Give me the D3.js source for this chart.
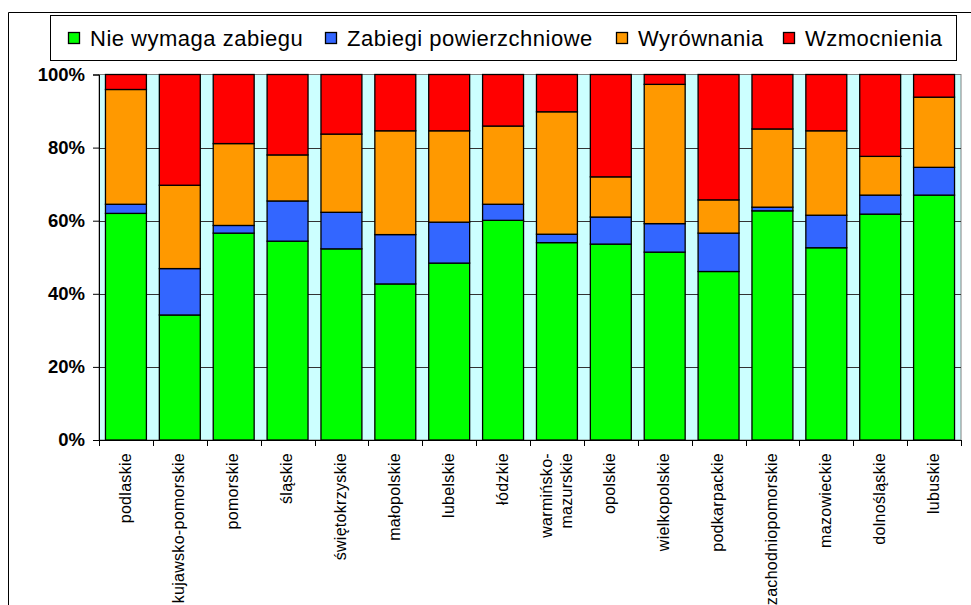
<!DOCTYPE html>
<html><head><meta charset="utf-8">
<script src="https://cdn.jsdelivr.net/npm/d3@7"></script>
<style>body{margin:0;background:#fff}svg{display:block}text{font-family:"Liberation Sans",Arial,sans-serif}</style>
</head><body><svg id="c" width="971" height="605"></svg>
<script>
const categories = ["podlaskie","kujawsko-pomorskie","pomorskie","śląskie","świętokrzyskie","małopolskie","lubelskie","łódzkie","warmińsko-\nmazurskie","opolskie","wielkopolskie","podkarpackie","zachodniopomorskie","mazowieckie","dolnośląskie","lubuskie"];
const seriesNames = ["Nie wymaga zabiegu","Zabiegi powierzchniowe","Wyrównania","Wzmocnienia"];
const nieWymaga   = [62.0,34.2,56.6,54.4,52.3,42.7,48.4,60.1,54.0,53.6,51.4,46.1,62.7,52.6,61.8,67.0];
const powierzchn  = [2.5,12.7,2.1,11.0,10.0,13.5,11.2,4.4,2.3,7.4,7.8,10.5,1.0,8.9,5.2,7.6];
const wyrownania  = [31.4,22.8,22.4,12.6,21.4,28.4,25.0,21.4,33.5,11.0,38.1,9.1,21.4,23.1,10.6,19.2];
const wzmocnienia = [4.1,30.3,18.9,22.0,16.3,15.4,15.4,14.1,10.2,28.0,2.7,34.3,14.9,15.4,22.4,6.2];
const yTicks = [0,20,40,60,80,100];
const colors = ["#00FF00","#3366FF","#FF9900","#FF0000"];

const svg = d3.select("#c");
svg.append("rect").attr("width",971).attr("height",605).attr("fill","#fff");

// outer chart border
svg.append("path").attr("d","M8.5,605 V12.5 H971").attr("fill","none").attr("stroke","#000").attr("stroke-width",1);

const L=99, R=961, T=74.5, B=440;
const x = d3.scaleBand().domain(d3.range(categories.length)).range([L,R]).paddingInner(0.24).paddingOuter(0.12);
const y = d3.scaleLinear().domain([0,100]).range([B,T]);

// plot area
svg.append("rect").attr("x",L).attr("y",T).attr("width",R-L).attr("height",B-T).attr("fill","#CCFFFF").attr("stroke","#808080").attr("stroke-width",1);
svg.append("g").selectAll("line").data(yTicks.filter(t=>t>0&&t<100)).join("line")
  .attr("x1",L).attr("x2",R).attr("y1",d=>Math.round(y(d))+0.5).attr("y2",d=>Math.round(y(d))+0.5)
  .attr("stroke","#333").attr("stroke-width",1);

// stack
const rows = categories.map((c,i)=>({i, s0:nieWymaga[i], s1:powierzchn[i], s2:wyrownania[i], s3:wzmocnienia[i]}));
const stack = d3.stack().keys(["s0","s1","s2","s3"]).offset(d3.stackOffsetExpand);
const series = stack(rows);
const g = svg.append("g");
series.forEach((s,k)=>{
  g.append("g").selectAll("rect").data(s).join("rect")
    .attr("x",d=>x(d.data.i)).attr("width",x.bandwidth())
    .attr("y",d=>y(d[1]*100)).attr("height",d=>y(d[0]*100)-y(d[1]*100))
    .attr("fill",colors[k]).attr("stroke","#000").attr("stroke-width",1.3);
});

// y axis
const ya = svg.append("g").attr("transform",`translate(${L},0)`)
  .call(d3.axisLeft(y).tickValues(yTicks).tickFormat(d=>d+"%").tickSize(6).tickPadding(8));
ya.select(".domain").attr("stroke","#000");
ya.selectAll("text").attr("font-size","18.5px").attr("font-weight","bold").attr("fill","#000").attr("font-family","Liberation Sans, Arial, sans-serif");

// x axis: ticks at boundaries
const bounds = d3.range(categories.length+1).map(i=>L + i*(R-L)/categories.length);
svg.append("line").attr("x1",L).attr("x2",R).attr("y1",B+0.5).attr("y2",B+0.5).attr("stroke","#000");
svg.append("g").selectAll("line").data(bounds).join("line")
  .attr("x1",d=>Math.round(d)+0.5).attr("x2",d=>Math.round(d)+0.5).attr("y1",B).attr("y2",B+6).attr("stroke","#000");

const xl = svg.append("g");
categories.forEach((c,i)=>{
  const cx = x(i)+x.bandwidth()/2;
  const lines = c.split("\n");
  lines.forEach((ln,j)=>{
    const off = (j-(lines.length-1)/2)*20;
    xl.append("text").attr("transform",`translate(${cx+off-1},453) rotate(-90)`)
      .attr("text-anchor","end").attr("dy","0.35em").attr("font-size","16px").attr("letter-spacing","0.3px").attr("fill","#000").text(ln);
  });
});

// legend
svg.append("rect").attr("x",50.5).attr("y",15.5).attr("width",906).attr("height",45).attr("fill","#fff").attr("stroke","#000").attr("stroke-width",1);
const legX = [68,325,616,783];
seriesNames.forEach((n,k)=>{
  svg.append("rect").attr("x",legX[k]+0.5).attr("y",32.5).attr("width",11).attr("height",11).attr("fill",colors[k]).attr("stroke","#000").attr("stroke-width",1.3);
  svg.append("text").attr("x",legX[k]+22).attr("y",46).attr("font-size","22px").attr("letter-spacing","0.5px").attr("fill","#000").text(n);
});
</script></body></html>
